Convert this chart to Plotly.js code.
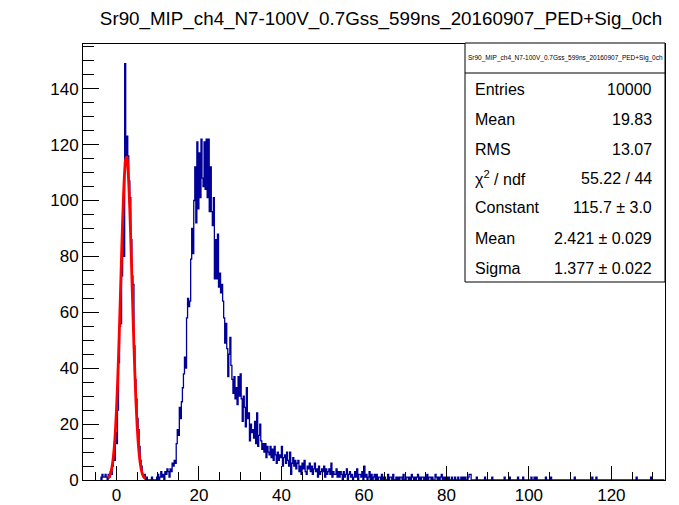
<!DOCTYPE html>
<html>
<head>
<meta charset="utf-8">
<script src="https://cdn.plot.ly/plotly-3.0.1.min.js"></script>
<style>html,body{margin:0;padding:0;background:#fff}#chart{width:679px;height:505px}</style>
</head>
<body>
<div id="chart"></div>
<script>
// ---------------- data ----------------
const chartTitle = "Sr90_MIP_ch4_N7-100V_0.7Gss_599ns_20160907_PED+Sig_0ch";
const binWidth = 0.25;
const firstBinLow = -4;     // lower edge of first listed bin
const lastEdge = 133;       // histogram upper limit
// counts per bin, 4 bins per unit, starting at x = -4
const counts = [
  1,0,2,1,  1,2,1,0,  2,1,3,2,  5,9,7,17,          // -4 .. -1
  13,25,42,55,  56,73,95,80,  149,113,123,116,  107,101,86,73, // 0..3
  70,48,36,29,  22,18,12,7,  5,2,1,2,  0,1,0,0,    // 4..7
  0,0,1,0,  0,0,0,1,  2,0,1,3,  1,2,0,3,           // 8..11
  2,4,3,1,  4,3,6,5,  7,6,13,18,  16,26,22,28,     // 12..15
  33,38,44,40,  58,65,62,64,  79,90,81,100,  112,92,121,97, // 16..19
  117,101,122,108,  105,121,104,122,  101,122,96,112,  96,91,101,72, // 20..23
  86,72,88,69,  74,67,70,64,  58,49,56,47,  37,45,51,41, // 24..27
  36,31,37,29,  33,27,37,30,  38,29,21,30,  26,19,33,22, // 28..31
  24,14,20,17,  18,15,21,13,  24,12,16,20,  14,11,13,10, // 32..35
  13,8,12,10,  9,12,8,11,  7,12,9,6,  10,7,9,8,     // 36..39
  12,5,8,9,  6,10,7,5,  10,2,6,8,  5,7,4,6,         // 40..43
  7,3,5,2,  6,4,7,3,  2,5,4,6,  3,5,2,4,            // 44..47
  6,3,4,1,  5,2,3,4,  3,5,1,4,  2,3,4,2,            // 48..51
  6,1,3,2,  2,4,1,3,  1,3,2,0,  3,1,2,4,            // 52..55
  0,2,3,1,  2,0,1,3,  1,4,0,2,  2,1,3,0,            // 56..59
  5,1,2,0,  1,3,0,2,  0,1,2,0,  2,0,1,1,            // 60..63
  0,2,0,1,  1,0,0,2,  0,1,1,0,  2,0,0,1,            // 64..67
  0,1,0,1,  1,0,2,0,  0,1,1,0,  1,0,2,1,            // 68..71
  0,1,0,1,  2,0,1,0,  1,1,0,1,  0,2,0,1,            // 72..75
  1,0,1,0,  0,2,1,0,  1,0,1,2,  0,1,0,1,            // 76..79
  1,0,1,0,  0,1,0,0,  1,0,0,1,  0,0,1,0,            // 80..83
  1,0,1,0,  0,1,2,2,  0,0,0,0,  0,1,0,0,            // 84..87
  0,0,0,0,  0,1,0,0,  0,0,0,0,  1,0,0,0             // 88..91
];
// sparse single entries far in the tail
const tailX      = [94.1, 95.4, 97.4, 98.6, 100.6, 101.4, 101.9, 104.1, 105.4, 111.1, 115.4, 116.4, 126.1, 129.6];
const tailCounts = [1, 1, 1, 1, 1, 1, 1, 1, 1, 1, 1, 1, 1, 1];

// Gaussian fit curve as drawn (red)
const fitX = [-2,-1.75,-1.5,-1.25,-1,-0.75,-0.5,-0.25,0,0.25,0.5,0.75,1,1.25,1.5,1.75,2,2.25,2.5,2.75,3,3.25,3.5,3.75,4,4.25,4.5,4.75,5,5.25,5.5,5.75,6,6.25,6.5,6.75,7];
const fitY = [0.67,1.18,2.01,3.31,5.29,8.16,12.19,17.63,24.67,33.39,43.73,55.41,67.93,80.60,92.51,102.75,110.41,114.81,115.51,112.45,105.91,96.53,85.12,72.63,59.96,47.89,37.01,27.68,20.03,14.02,9.50,6.22,3.95,2.42,1.44,0.83,0.46];

// stats box text
const statLabels = ["Entries", "Mean", "RMS", "\u03C7<sup>2</sup> / ndf", "Constant", "Mean", "Sigma"];
const statValues = ["10000", "19.83", "13.07", "55.22 / 44", "115.7 \u00B1 3.0", "2.421 \u00B1 0.029", "1.377 \u00B1 0.022"];

// ---------------- build histogram ----------------
const nBins = Math.round((lastEdge - firstBinLow) / binWidth);
const binCounts = new Array(nBins).fill(0);
counts.forEach((c, i) => { binCounts[i] = c; });
tailX.forEach((x, k) => {
  const i = Math.floor((x - firstBinLow) / binWidth);
  if (i >= 0 && i < nBins) binCounts[i] += tailCounts[k];
});
const binCenters = binCounts.map((_, i) => firstBinLow + (i + 0.5) * binWidth);

// ---------------- layout helpers (pixels -> paper) ----------------
const W = 679, H = 505;
const M = {l: 83, r: 14, t: 44, b: 25};
const pw = W - M.l - M.r, ph = H - M.t - M.b;
const px = x => (x - M.l) / pw;
const py = y => (H - M.b - y) / ph;

const font = "Liberation Sans, Arial, Helvetica, sans-serif";
const rowY = [89, 119, 149, 178, 208, 238, 268];

const annotations = [];
statLabels.forEach((t, i) => {
  annotations.push({xref: 'paper', yref: 'paper', x: px(473), y: py(rowY[i]), xanchor: 'left', yanchor: 'middle',
    text: t, showarrow: false, font: {family: font, size: 16, color: '#000'}});
  annotations.push({xref: 'paper', yref: 'paper', x: px(654), y: py(rowY[i]), xanchor: 'right', yanchor: 'middle',
    text: statValues[i], showarrow: false, font: {family: font, size: 16, color: '#000'}});
});
annotations.push({xref: 'paper', yref: 'paper', x: px(565), y: py(58), xanchor: 'center', yanchor: 'middle',
  text: chartTitle, showarrow: false, font: {family: font, size: 6.5, color: '#000'}});

const shapes = [
  {type: 'rect', xref: 'paper', yref: 'paper', x0: px(465), x1: px(665), y0: py(282), y1: py(43),
   line: {color: '#000', width: 1}, fillcolor: '#fff', layer: 'above'},
  {type: 'line', xref: 'paper', yref: 'paper', x0: px(465), x1: px(665), y0: py(73), y1: py(73),
   line: {color: '#000', width: 1}, layer: 'above'}
];

const traces = [
  {type: 'scatter', mode: 'lines', x: binCenters, y: binCounts,
   line: {shape: 'hvh', color: '#000099', width: 1.3}, hoverinfo: 'skip', cliponaxis: true},
  {type: 'scatter', mode: 'lines', x: fitX, y: fitY,
   line: {shape: 'spline', color: '#ff0000', width: 2.8}, hoverinfo: 'skip'}
];

const layout = {
  width: W, height: H,
  margin: M,
  paper_bgcolor: '#fff', plot_bgcolor: '#fff',
  showlegend: false,
  font: {family: font, size: 17, color: '#000'},
  title: {text: chartTitle, x: 381 / W, xref: 'container', xanchor: 'center',
          y: 1 - 18 / H, yref: 'container', yanchor: 'middle',
          font: {family: font, size: 18.8, color: '#000'}},
  xaxis: {range: [-8.1, 133], showgrid: false, zeroline: false,
          showline: true, linecolor: '#000', linewidth: 1, mirror: true,
          ticks: 'inside', ticklen: 14, tickcolor: '#000', tickwidth: 1,
          tick0: 0, dtick: 20, tickfont: {family: font, size: 17, color: '#000'},
          minor: {ticks: 'inside', dtick: 5, ticklen: 8, tickcolor: '#000', tickwidth: 1, showgrid: false}},
  yaxis: {range: [0, 156], showgrid: false, zeroline: false,
          showline: true, linecolor: '#000', linewidth: 1, mirror: true,
          ticks: 'inside', ticklen: 16, tickcolor: '#000', tickwidth: 1,
          tick0: 0, dtick: 20, tickfont: {family: font, size: 17, color: '#000'},
          minor: {ticks: 'inside', dtick: 5, ticklen: 11, tickcolor: '#000', tickwidth: 1, showgrid: false}},
  shapes: shapes,
  annotations: annotations
};

Plotly.newPlot('chart', traces, layout, {displayModeBar: false, staticPlot: true});
</script>
</body>
</html>
